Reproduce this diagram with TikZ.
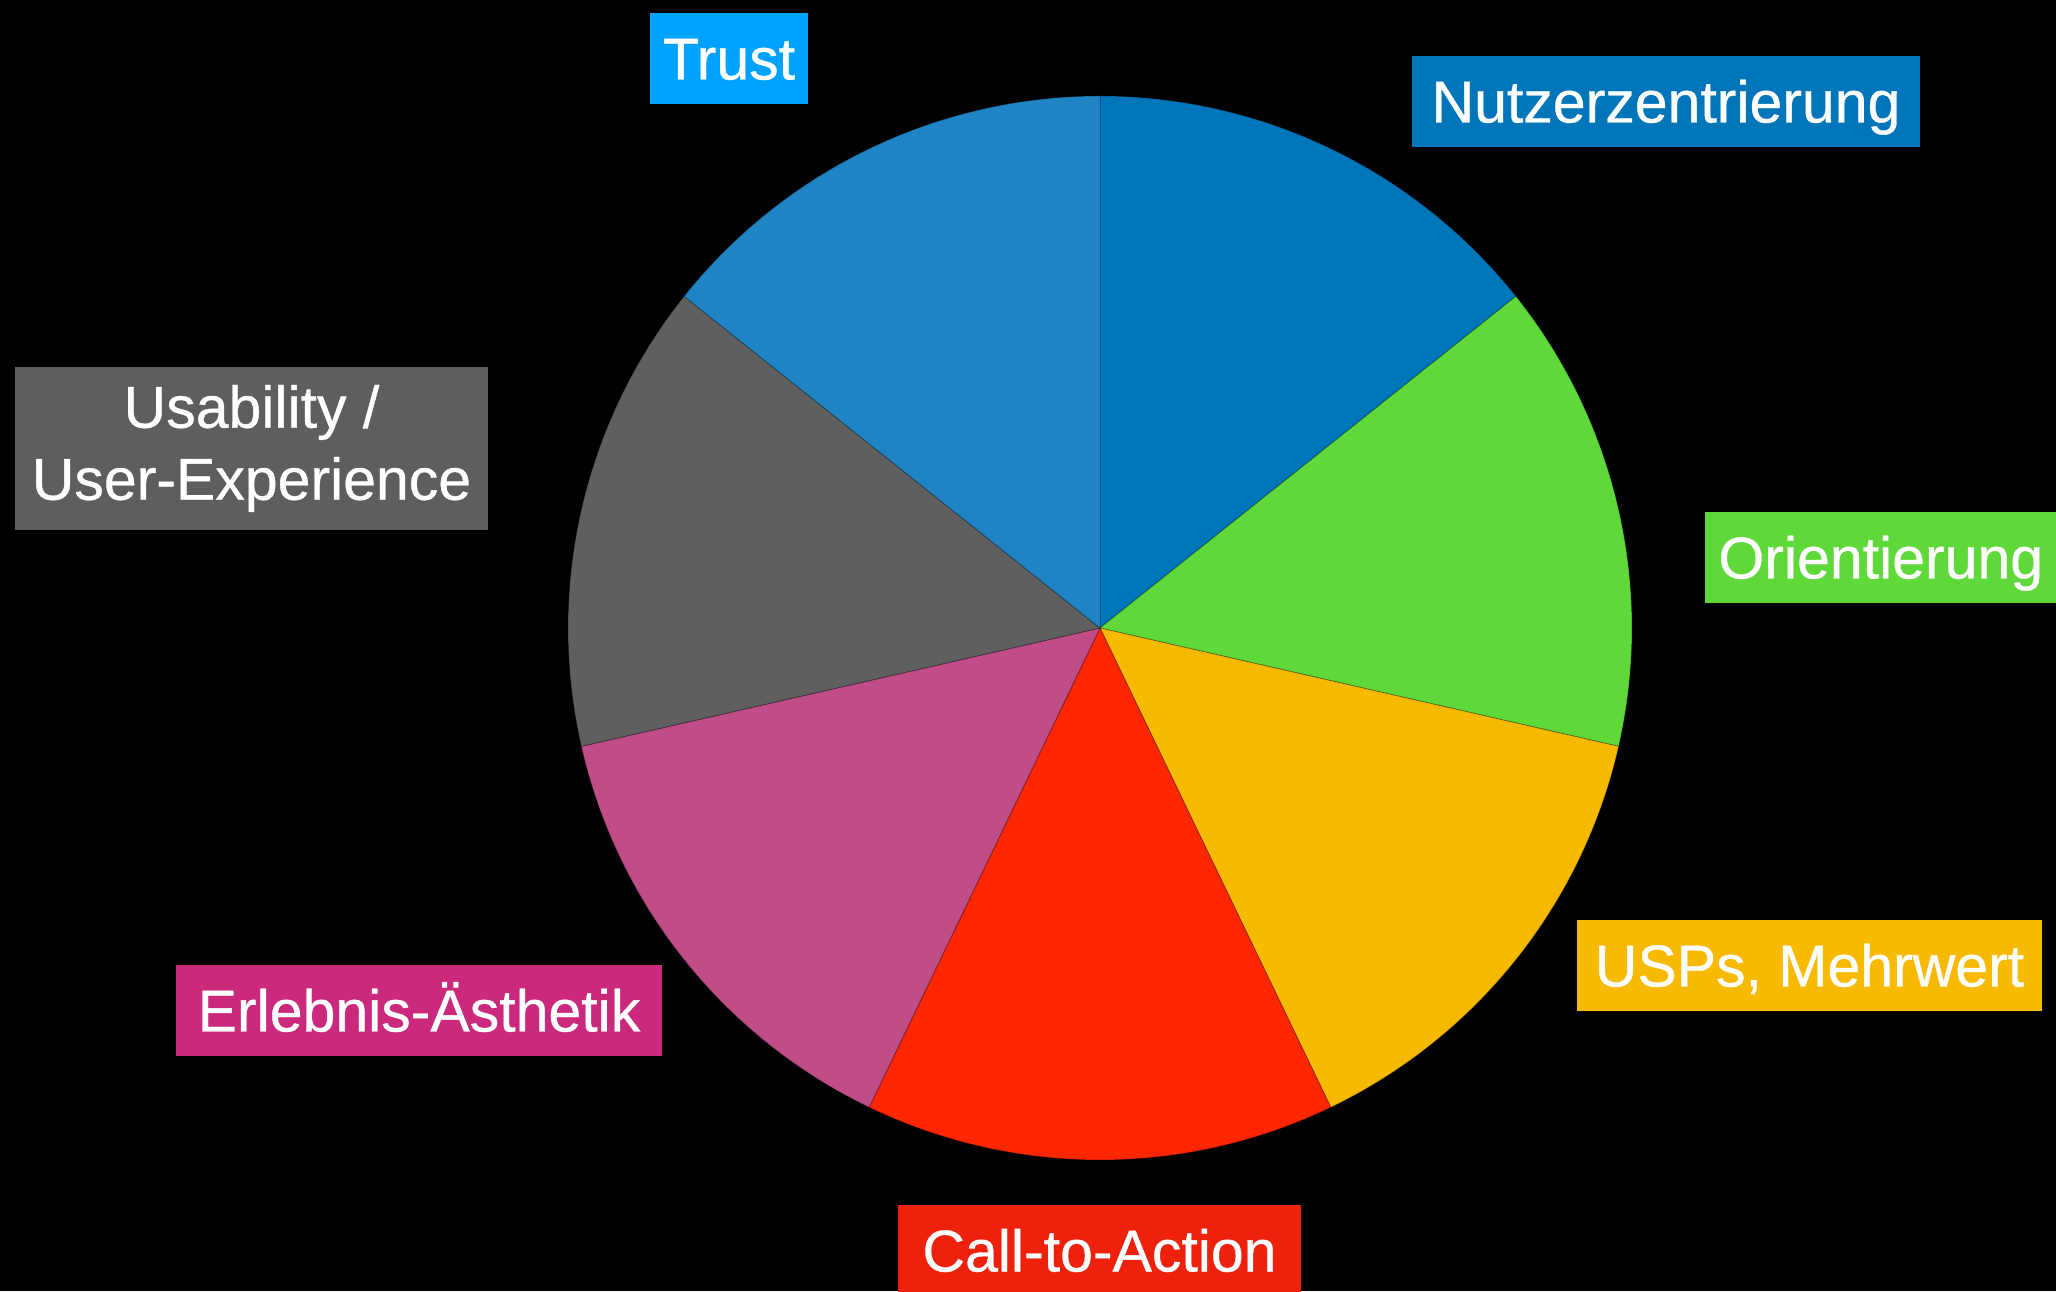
\documentclass[tikz,border=0pt]{standalone}
\usepackage{fontspec}
\setmainfont{Liberation Sans}
\newfontfamily\labfont{Liberation Sans}[FakeBold=0.6]
\definecolor{sBlueDark}{HTML}{0076BA}
\definecolor{sGreen}{HTML}{5FD93A}
\definecolor{sYellow}{HTML}{F7BA00}
\definecolor{sRed}{HTML}{FF2600}
\definecolor{sPink}{HTML}{C14D88}
\definecolor{sGray}{HTML}{5F5F5F}
\definecolor{sBlue}{HTML}{1E84C4}
\definecolor{lTrust}{HTML}{00A2FF}
\definecolor{lRed}{HTML}{EE220C}
\definecolor{lPink}{HTML}{CB297B}
\definecolor{lGray}{HTML}{5E5E5E}
\definecolor{lYellow}{HTML}{F8BA00}
\tikzset{
  slice/.style={draw=black, draw opacity=0.25, line width=0.5pt},
  lab/.style={inner sep=0pt, minimum height=45.5pt, text=white,
    font=\labfont\fontsize{29.5}{36}\selectfont, align=center},
  oneline/.style={text height=21pt, text depth=0pt}
}
\begin{document}
\begin{tikzpicture}[x=0.5pt,y=0.5pt]
\fill[black] (0,0) rectangle (2056,1291);
\useasboundingbox (0,0) rectangle (2056,1291);
\coordinate (c) at (1100,663);
\def\R{532}
\fill[sBlueDark, slice] (c) -- ++(90:\R) arc[start angle=90, end angle=38.571, radius=\R] -- cycle;
\fill[sGreen, slice] (c) -- ++(38.571:\R) arc[start angle=38.571, end angle=-12.857, radius=\R] -- cycle;
\fill[sYellow, slice] (c) -- ++(-12.857:\R) arc[start angle=-12.857, end angle=-64.286, radius=\R] -- cycle;
\fill[sRed, slice] (c) -- ++(-64.286:\R) arc[start angle=-64.286, end angle=-115.714, radius=\R] -- cycle;
\fill[sPink, slice] (c) -- ++(-115.714:\R) arc[start angle=-115.714, end angle=-167.143, radius=\R] -- cycle;
\fill[sGray, slice] (c) -- ++(192.857:\R) arc[start angle=192.857, end angle=141.429, radius=\R] -- cycle;
\fill[sBlue, slice] (c) -- ++(141.429:\R) arc[start angle=141.429, end angle=90, radius=\R] -- cycle;

\node[lab, oneline, fill=lTrust, minimum width=79pt] (trust) at (729,1232.5) {Trust};
\node[lab, oneline, fill=sBlueDark, minimum width=254pt] (nutzer) at (1666,1189.5) {Nutzerzentrierung};
\node[lab, fill=lGray, minimum width=236.5pt, minimum height=81.5pt] (usab) at (251.5,842.5) {Usability /\\User-Experience};
\node[lab, oneline, fill=sGreen, minimum width=175.5pt, text width=169pt, align=left, inner xsep=6.5pt, anchor=west] (orient) at (1705,733.5) {Orientierung};
\node[lab, oneline, fill=lYellow, minimum width=232.5pt] (usps) at (1809.5,325.5) {USPs, Mehrwert};
\node[lab, oneline, fill=lRed, minimum width=201.5pt] (cta) at (1099.5,40.5) {Call-to-Action};
\node[lab, oneline, fill=lPink, minimum width=243pt] (erleb) at (419,280.5) {Erlebnis-Ästhetik};
\end{tikzpicture}
\end{document}
